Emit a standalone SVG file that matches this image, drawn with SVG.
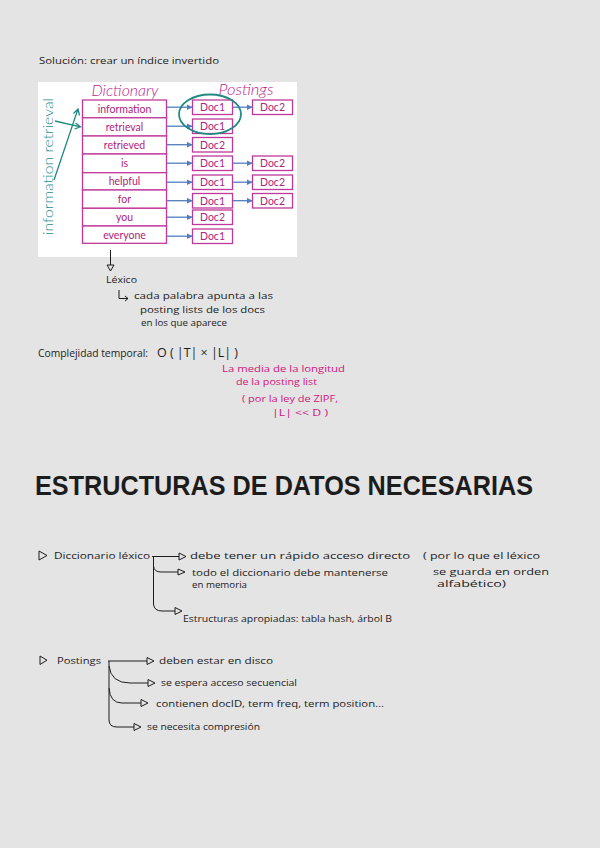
<svg xmlns="http://www.w3.org/2000/svg" width="600" height="848" viewBox="0 0 600 848">
<defs>
<style>
.hw{font-family:"Open Sans","Liberation Sans",sans-serif;font-size:9.5px;fill:#1c1c1c}
.pk{font-family:"Open Sans","Liberation Sans",sans-serif;font-size:9.5px;fill:#d1147e}
.dict{fill:#fff;stroke:#c0399a;stroke-width:1.3}
.dt{font-family:Lato,"Open Sans",sans-serif;font-size:10.5px;fill:#b0237c;text-anchor:middle}
.ttl{font-family:Lato,"Open Sans",sans-serif;font-size:15px;font-style:italic;font-weight:300;fill:#c0268f;text-anchor:middle}
.ba{stroke:#4f7fbd;stroke-width:1.3;fill:none;marker-end:url(#bh)}
.con{stroke:#1c1c1c;stroke-width:1;fill:none}
.tri{stroke:#1c1c1c;stroke-width:1;fill:none;stroke-linejoin:round}
.tl{stroke:#1f8a83;stroke-width:1.3;fill:none}
</style>
<marker id="bh" viewBox="0 0 10 10" refX="9" refY="5" markerWidth="6" markerHeight="6" orient="auto" markerUnits="userSpaceOnUse">
<path d="M0 0 L10 5 L0 10 z" fill="#4f7fbd"/>
</marker>
</defs>
<rect width="600" height="848" fill="#e4e4e4"/>

<g id="title-solucion"><text class="hw" x="39" y="64" textLength="180" lengthAdjust="spacingAndGlyphs">Solución: crear un índice invertido</text></g>

<g id="figure">
<rect x="38" y="82" width="259" height="175" fill="#fff"/>
<text class="ttl" x="125" y="96" textLength="67" lengthAdjust="spacingAndGlyphs">Dictionary</text>
<text class="ttl" x="246" y="95" textLength="55" lengthAdjust="spacingAndGlyphs">Postings</text>
<text x="0" y="0" transform="translate(53,235) rotate(-90)" font-family="Lato,'Open Sans',sans-serif" font-size="14" font-weight="300" fill="#2a8c8c" textLength="137" lengthAdjust="spacingAndGlyphs">information retrieval</text>
</g>

<g id="dictionary">
<rect class="dict" x="82.5" y="100" width="84" height="17.8"/>
<rect class="dict" x="82.5" y="117.8" width="84" height="18.2"/>
<rect class="dict" x="82.5" y="136" width="84" height="18"/>
<rect class="dict" x="82.5" y="154" width="84" height="18.7"/>
<rect class="dict" x="82.5" y="172.7" width="84" height="17.3"/>
<rect class="dict" x="82.5" y="190" width="84" height="18.3"/>
<rect class="dict" x="82.5" y="208.3" width="84" height="17.7"/>
<rect class="dict" x="82.5" y="226" width="84" height="17.3"/>
<text class="dt" x="124.5" y="112.8">information</text>
<text class="dt" x="124.5" y="130.8">retrieval</text>
<text class="dt" x="124.5" y="148.8">retrieved</text>
<text class="dt" x="124.5" y="167">is</text>
<text class="dt" x="124.5" y="185">helpful</text>
<text class="dt" x="124.5" y="203">for</text>
<text class="dt" x="124.5" y="221">you</text>
<text class="dt" x="124.5" y="238.5">everyone</text>
</g>

<g id="postings">
<rect class="dict" x="192.5" y="100" width="40" height="14.5"/>
<rect class="dict" x="252.5" y="100" width="40" height="14.5"/>
<rect class="dict" x="192.5" y="119" width="40" height="14.5"/>
<rect class="dict" x="192.5" y="137.5" width="40" height="14.5"/>
<rect class="dict" x="192.5" y="156" width="40" height="14.5"/>
<rect class="dict" x="252.5" y="156" width="40" height="14.5"/>
<rect class="dict" x="192.5" y="175" width="40" height="14.5"/>
<rect class="dict" x="252.5" y="175" width="40" height="14.5"/>
<rect class="dict" x="192.5" y="193.5" width="40" height="14.5"/>
<rect class="dict" x="252.5" y="193.5" width="40" height="14.5"/>
<rect class="dict" x="192.5" y="210" width="40" height="14.5"/>
<rect class="dict" x="192.5" y="229" width="40" height="14.5"/>
<text class="dt" x="212.5" y="111">Doc1</text>
<text class="dt" x="272.5" y="111">Doc2</text>
<text class="dt" x="212.5" y="130">Doc1</text>
<text class="dt" x="212.5" y="148.5">Doc2</text>
<text class="dt" x="212.5" y="167">Doc1</text>
<text class="dt" x="272.5" y="167">Doc2</text>
<text class="dt" x="212.5" y="186">Doc1</text>
<text class="dt" x="272.5" y="186">Doc2</text>
<text class="dt" x="212.5" y="204.5">Doc1</text>
<text class="dt" x="272.5" y="204.5">Doc2</text>
<text class="dt" x="212.5" y="221">Doc2</text>
<text class="dt" x="212.5" y="240">Doc1</text>
</g>

<g id="figure-connectors">
<path class="ba" d="M167 107.2 H192"/>
<path class="ba" d="M167 126.2 H192"/>
<path class="ba" d="M167 144.7 H192"/>
<path class="ba" d="M167 163.2 H192"/>
<path class="ba" d="M167 182.2 H192"/>
<path class="ba" d="M167 200.7 H192"/>
<path class="ba" d="M167 217.2 H192"/>
<path class="ba" d="M167 236.2 H192"/>
<path class="ba" d="M233 107.2 H252"/>
<path class="ba" d="M233 163.2 H252"/>
<path class="ba" d="M233 182.2 H252"/>
<path class="ba" d="M233 200.7 H252"/>
<ellipse cx="210" cy="114.3" rx="31" ry="19.8" fill="none" stroke="#1f8a83" stroke-width="1.8"/>
<path class="tl" d="M54 180 L78 109 M73.5 113.5 L78 109 L79.5 115.5"/>
<path class="tl" d="M55 121 L80.5 126.8 M75.5 123 L80.5 126.8 L74.5 129"/>
<path class="con" d="M110.5 250 V265"/>
<path class="tri" d="M107 265 H114 L110.5 271 Z"/>
</g>

<g id="lexico">
<text class="hw" x="106" y="283" textLength="31" lengthAdjust="spacingAndGlyphs">Léxico</text>
<path class="con" d="M119 290 V298.5 H128 M125 296 L128 298.5 L125 301"/>
<text class="hw" x="134" y="299" textLength="139" lengthAdjust="spacingAndGlyphs">cada palabra apunta a las</text>
<text class="hw" x="140" y="312.5" textLength="125" lengthAdjust="spacingAndGlyphs">posting lists de los docs</text>
<text class="hw" x="141" y="326" textLength="86" lengthAdjust="spacingAndGlyphs">en los que aparece</text>
</g>

<g id="complejidad">
<text class="hw" x="38" y="357" textLength="110" lengthAdjust="spacingAndGlyphs" style="font-size:11px">Complejidad temporal:</text>
<text class="hw" x="157" y="357" textLength="81" lengthAdjust="spacingAndGlyphs" style="font-size:12px">O ( |T| × |L| )</text>
<text class="pk" x="222" y="372" textLength="123" lengthAdjust="spacingAndGlyphs">La media de la longitud</text>
<text class="pk" x="236" y="384.5" textLength="81" lengthAdjust="spacingAndGlyphs">de la posting list</text>
<text class="pk" x="242" y="401.5" textLength="96" lengthAdjust="spacingAndGlyphs">( por la ley de ZIPF,</text>
<text class="pk" x="272" y="416" textLength="56" lengthAdjust="spacingAndGlyphs">|L| &lt;&lt; D )</text>
</g>

<g id="heading"><text x="35" y="495" font-family="'Liberation Sans',Arial,sans-serif" font-weight="bold" font-size="28" fill="#1c1c1c" textLength="498" lengthAdjust="spacingAndGlyphs">ESTRUCTURAS DE DATOS NECESARIAS</text></g>

<g id="diccionario">
<path class="tri" d="M39 551 V560 L47 555.5 Z"/>
<text class="hw" x="54" y="559" textLength="96" lengthAdjust="spacingAndGlyphs">Diccionario léxico</text>
<text class="hw" x="190" y="558.5" textLength="220" lengthAdjust="spacingAndGlyphs">debe tener un rápido acceso directo</text>
<text class="hw" x="423" y="558.5" textLength="117" lengthAdjust="spacingAndGlyphs">( por lo que el léxico</text>
<text class="hw" x="192" y="575.5" textLength="196" lengthAdjust="spacingAndGlyphs">todo el diccionario debe mantenerse</text>
<text class="hw" x="192" y="587.5" textLength="55" lengthAdjust="spacingAndGlyphs">en memoria</text>
<text class="hw" x="433" y="574.5" textLength="116" lengthAdjust="spacingAndGlyphs">se guarda en orden</text>
<text class="hw" x="437" y="587" textLength="69" lengthAdjust="spacingAndGlyphs">alfabético)</text>
<text class="hw" x="183" y="622" textLength="209" lengthAdjust="spacingAndGlyphs">Estructuras apropiadas: tabla hash, árbol B</text>
</g>

<g id="postings-notes">
<path class="tri" d="M40 656 V664.5 L47 660.2 Z"/>
<text class="hw" x="57" y="663.5" textLength="44" lengthAdjust="spacingAndGlyphs">Postings</text>
<text class="hw" x="159" y="664" textLength="114" lengthAdjust="spacingAndGlyphs">deben estar en disco</text>
<text class="hw" x="161" y="686" textLength="136" lengthAdjust="spacingAndGlyphs">se espera acceso secuencial</text>
<text class="hw" x="156" y="706.5" textLength="228" lengthAdjust="spacingAndGlyphs">contienen docID, term freq, term position...</text>
<text class="hw" x="147" y="729.5" textLength="113" lengthAdjust="spacingAndGlyphs">se necesita compresión</text>
</g>

<g id="connectors">
<path class="con" d="M152 556.5 H179"/>
<path class="tri" d="M179 553 V560 L186 556.5 Z"/>
<path class="con" d="M153.5 556.5 V566 Q154 572 161 572 H178"/>
<path class="tri" d="M178 569 V575 L185 572 Z"/>
<path class="con" d="M153.5 566 V604 Q154 611 162 611 H175"/>
<path class="tri" d="M175 607.5 V614.5 L182 611 Z"/>
<path class="con" d="M108 661 H147"/>
<path class="tri" d="M147 657.5 V664.5 L154 661 Z"/>
<path class="con" d="M109 661 V720 Q109 727 117 727 H134"/>
<path class="tri" d="M134 723.5 V730.5 L141 727 Z"/>
<path class="con" d="M109 666 Q111 683 130 683 H148"/>
<path class="tri" d="M148 679.5 V686.5 L155 683 Z"/>
<path class="con" d="M109 688 Q110 703 122 703 H141"/>
<path class="tri" d="M141 699.5 V706.5 L148 703 Z"/>
</g>
</svg>
